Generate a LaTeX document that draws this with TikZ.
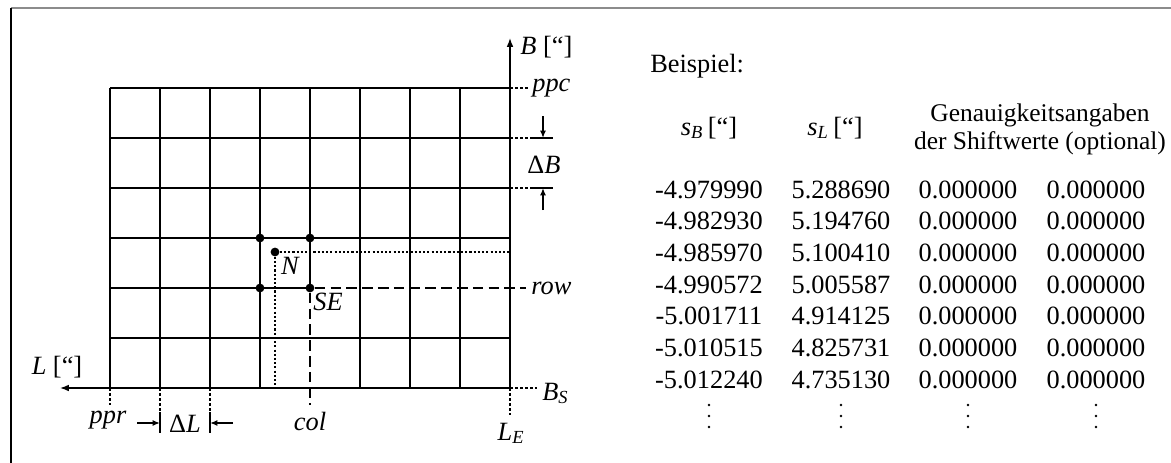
\documentclass[tikz,border=0pt]{standalone}
\usepackage{fontspec}
\setmainfont{Liberation Serif}
\usetikzlibrary{arrows.meta,positioning}

\newcommand{\quot}{[\textquotedblleft]}
\newcommand{\figfont}{\fontsize{15}{18}\selectfont}

\tikzset{
  gridline/.style={line width=.8pt, draw=black},
  axisline/.style={line width=.8pt, -{Latex[length=5pt,width=3.8pt]}},
  dimarrow/.style={line width=.8pt, -{Latex[length=4.2pt,width=3.4pt]}},
  refline/.style={line width=.7pt, dash pattern=on 1.6pt off 1.3pt},
  pointline/.style={line width=.6pt, dash pattern=on 1.2pt off 1.2pt},
  cellline/.style={line width=.8pt, dash pattern=on 6pt off 3pt},
  gridpt/.style={circle, fill=black, inner sep=0pt, minimum size=5pt},
  axlabel/.style={font=\figfont\itshape, inner sep=0pt},
  tabtext/.style={inner sep=0pt, anchor=base}
}

\begin{document}
\begin{tikzpicture}[x=0.02cm, y=-0.02cm, font=\figfont]
  \useasboundingbox (0,0) rectangle (1171,463);
  % page frame
  \draw[black!45, line width=.8pt] (11,8) -- (1171,8);
  \draw[black, line width=1.1pt] (11,8) -- (11,463);

  % grid
  \foreach \x in {110,160,210,260,360,410,460}
    \draw[gridline] (\x,88) -- (\x,388);
  \draw[gridline] (310,88) -- (310,288);
  \foreach \y in {88,138,188,238,338}
    \draw[gridline] (110,\y) -- (510,\y);
  \draw[gridline] (110,288) -- (310,288);

  \coordinate (O) at (510,388);
  \draw[axisline] (O) -- (510,38) coordinate (Btip);
  \draw[axisline] (O) -- (60,388) coordinate (Ltip);

  \node[gridpt] (nw) at (260,238) {};
  \node[gridpt] (ne) at (310,238) {};
  \node[gridpt] (sw) at (260,288) {};
  \node[gridpt] (se) at (310,288) {};
  \node[gridpt] (np) at (275,252) {};

  \draw[pointline] (np) -- (510,252);
  \draw[pointline] (np) -- (275,388);
  \draw[cellline] (se) -- (526,288) coordinate (rowend);
  \draw[cellline] (se) -- (310,405) coordinate (colend);

  \node[axlabel] (nlbl) at (290,266) {N};
  \node[axlabel] (selbl) at (328,302) {SE};

  % right side labels
  \node[axlabel, anchor=west] (blbl) at (520,47) {B \upshape\quot};
  \draw[refline] (510,88) -- (529,88) coordinate (ppcend);
  \node[axlabel, anchor=west] (ppc) at (532,88) {ppc};
  \foreach \y in {138,188} {
    \draw[refline] (510,\y) -- (533,\y);
    \draw[line width=.8pt] (533,\y) -- (553,\y);
  }
  \draw[dimarrow] (543,116) -- (543,138);
  \draw[dimarrow] (543,210) -- (543,188);
  \node[inner sep=0pt] (db) at (544,165) {Δ\textit{B}};
  \node[axlabel, anchor=west] (row) at (531,288) {row};
  \draw[refline] (O) -- (537,388) coordinate (bsend);
  \node[axlabel, anchor=base west] (bs) at (542,400) {B\textsubscript{S}};

  % bottom labels
  \node[axlabel] (llbl) at (57,367) {L \upshape\quot};
  \draw[refline] (110,388) -- (110,405);
  \node[axlabel, anchor=base] (ppr) at (108,423) {ppr};
  \foreach \x in {160,210} {
    \draw[refline] (\x,388) -- (\x,412);
    \draw[line width=.8pt] (\x,412) -- (\x,433);
  }
  \draw[dimarrow] (137,423) -- (160,423);
  \draw[dimarrow] (233,423) -- (210,423);
  \node[inner sep=0pt, anchor=base] (dl) at (185,432) {Δ\textit{L}};
  \node[axlabel, anchor=base] (col) at (310,430) {col};
  \draw[refline] (O) -- (510,415);
  \node[axlabel, anchor=base] (le) at (511,440) {L\textsubscript{E}};

  % example table
  \node[tabtext, anchor=base west] (bsp) at (650,72) {Beispiel:};
  \node[tabtext] (hsb) at (709,135) {\textit{s}\textsubscript{\textit{B}}\,\quot};
  \node[tabtext] (hsl) at (835,135) {\textit{s}\textsubscript{\textit{L}}\,\quot};
  \node[inner sep=0pt, align=center, font=\fontsize{14.5}{16}\selectfont] (hacc) at (1040,129)
    {Genauigkeitsangaben\\der Shiftwerte (optional)};
  \foreach \sb/\sl [count=\i] in {-4.979990/5.288690, -4.982930/5.194760,
      -4.985970/5.100410, -4.990572/5.005587, -5.001711/4.914125,
      -5.010515/4.825731, -5.012240/4.735130} {
    \node[tabtext] (sb\i) at (709,{166.3+31.7*\i}) {\sb};
    \node[tabtext] (sl\i) at (841,{166.3+31.7*\i}) {\sl};
    \node[tabtext] (ab\i) at (968,{166.3+31.7*\i}) {0.000000};
    \node[tabtext] (al\i) at (1096,{166.3+31.7*\i}) {0.000000};
  }
  % continuation dots
  \foreach \x in {709,841,968,1096}
    \foreach \y in {405,416,427}
      \fill (\x,\y) circle (1.4);
\end{tikzpicture}
\end{document}
